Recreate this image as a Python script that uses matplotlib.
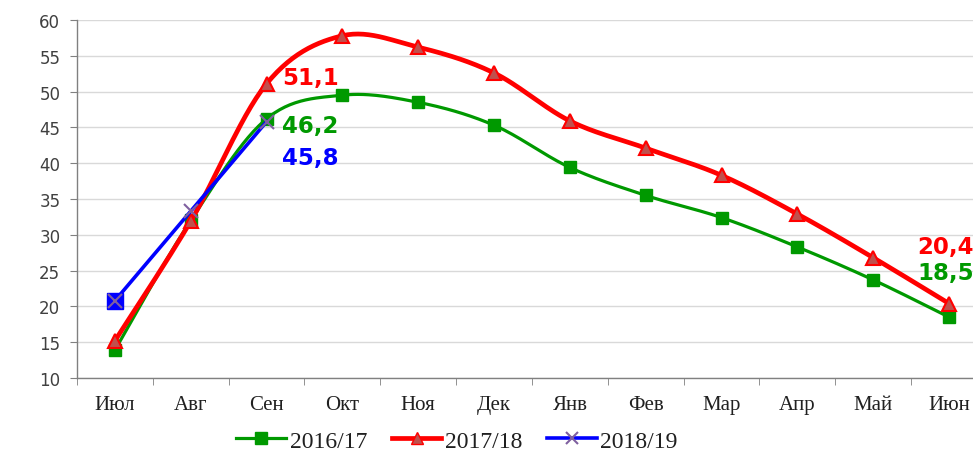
import numpy as np
import matplotlib
matplotlib.use("Agg")
import matplotlib.pyplot as plt
from matplotlib.lines import Line2D

months = ["Июл", "Авг", "Сен", "Окт", "Ноя", "Дек", "Янв", "Фев", "Мар", "Апр", "Май", "Июн"]
s2016 = [13.9, 32.0, 46.2, 49.5, 48.5, 45.3, 39.4, 35.5, 32.4, 28.3, 23.7, 18.5]
s2017 = [15.2, 31.9, 51.1, 57.8, 56.2, 52.6, 45.9, 42.1, 38.3, 32.9, 26.8, 20.4]
s2018 = [20.8, 33.3, 45.8]
labels = ["2016/17", "2017/18", "2018/19"]
yticks = [10, 15, 20, 25, 30, 35, 40, 45, 50, 55, 60]


def smooth(xs, ys, n=30):
    xs = np.asarray(xs, float)
    ys = np.asarray(ys, float)
    P = np.column_stack([xs, ys])
    out = []
    for i in range(len(P) - 1):
        p0 = P[i - 1] if i > 0 else P[i]
        p1 = P[i]
        p2 = P[i + 1]
        p3 = P[i + 2] if i + 2 < len(P) else P[i + 1]
        c1 = p1 + (p2 - p0) / 6.0
        c2 = p2 - (p3 - p1) / 6.0
        t = np.linspace(0, 1, n)[:, None]
        seg = ((1 - t) ** 3) * p1 + 3 * ((1 - t) ** 2) * t * c1 + 3 * (1 - t) * t ** 2 * c2 + t ** 3 * p2
        out.append(seg if i == 0 else seg[1:])
    S = np.vstack(out)
    return S[:, 0], S[:, 1]


fig = plt.figure(figsize=(9.73, 4.52), dpi=100)
ax = fig.add_axes([77 / 973, (452 - 379) / 452, (987 - 77) / 973, 358 / 452])

x = np.arange(len(months))
green = "#009900"
red = "#FF0000"
blue = "#0000FF"

# green
gx, gy = smooth(x, s2016)
ax.plot(gx, gy, color=green, lw=2.3, zorder=3, solid_capstyle="round")
ax.plot(x, s2016, ls="none", marker="s", ms=8, color=green, mec=green, zorder=4)

# red
rx, ry = smooth(x, s2017)
ax.plot(rx, ry, color=red, lw=3.4, zorder=5, solid_capstyle="round")
ax.plot(x, s2017, ls="none", marker="^", ms=10, mfc="#C0504D", mec=red, mew=1.5, zorder=6)

# blue
x3 = x[:len(s2018)]
ax.plot(x3, s2018, color=blue, lw=2.6, zorder=7)
ax.plot(x3[:1], s2018[:1], ls="none", marker="s", ms=12, color=blue, zorder=8)
ax.plot(x3, s2018, ls="none", marker="x", ms=10, mew=1.5, color="#7F60A0", zorder=9)

# data labels
fs = 16.5
ax.text(2.2, s2017[2] + 0.8, "51,1", color=red, fontsize=fs, fontweight="bold", va="center", ha="left", zorder=10)
ax.text(2.2, s2016[2] - 0.9, "46,2", color=green, fontsize=fs, fontweight="bold", va="center", ha="left", zorder=10)
ax.text(2.2, s2018[2] - 5.0, "45,8", color=blue, fontsize=fs, fontweight="bold", va="center", ha="left", zorder=10)
ax.text(10.58, s2017[11] + 7.9, "20,4", color=red, fontsize=fs, fontweight="bold", va="center", ha="left", zorder=10)
ax.text(10.58, s2016[11] + 6.2, "18,5", color=green, fontsize=fs, fontweight="bold", va="center", ha="left", zorder=10)

ax.set_xlim(-0.5, 11.5)
ax.set_ylim(10, 60)
ax.set_yticks(yticks)
ax.set_yticklabels([str(v) for v in yticks], fontsize=12, family="DejaVu Sans", color="#404040")
ax.set_xticks(x)
ax.set_xticklabels(months, fontsize=15, family="Liberation Serif", color="#202020")
ax.set_xticks(np.arange(-0.5, 12, 1), minor=True)
ax.tick_params(axis="x", which="major", length=0, pad=12)
ax.tick_params(axis="x", which="minor", length=5, color="#808080")
ax.tick_params(axis="y", length=5, color="#808080", pad=7)
ax.grid(axis="y", color="#D9D9D9", lw=1)
ax.set_axisbelow(True)
for s in ["top", "right"]:
    ax.spines[s].set_visible(False)
ax.spines["left"].set_color("#808080")
ax.spines["bottom"].set_color("#808080")
for s in ["left", "bottom"]:
    ax.spines[s].set_linewidth(1)

handles = [
    Line2D([], [], color=green, lw=2.3, marker="s", ms=8),
    Line2D([], [], color=red, lw=3.4, marker="^", ms=9, mfc="#C0504D", mec=red),
    Line2D([], [], color=blue, lw=2.6, marker="x", ms=9, mew=1.5, mec="#7F60A0"),
]
fig.legend(handles, labels, loc="center", bbox_to_anchor=(457 / 973, 1 - 442 / 452), ncol=3,
           frameon=False, prop={"family": "Liberation Serif", "size": 17},
           handlelength=2.1, handletextpad=0.15, columnspacing=1.05, labelcolor="#202020")

fig.savefig("out.png", dpi=100)
